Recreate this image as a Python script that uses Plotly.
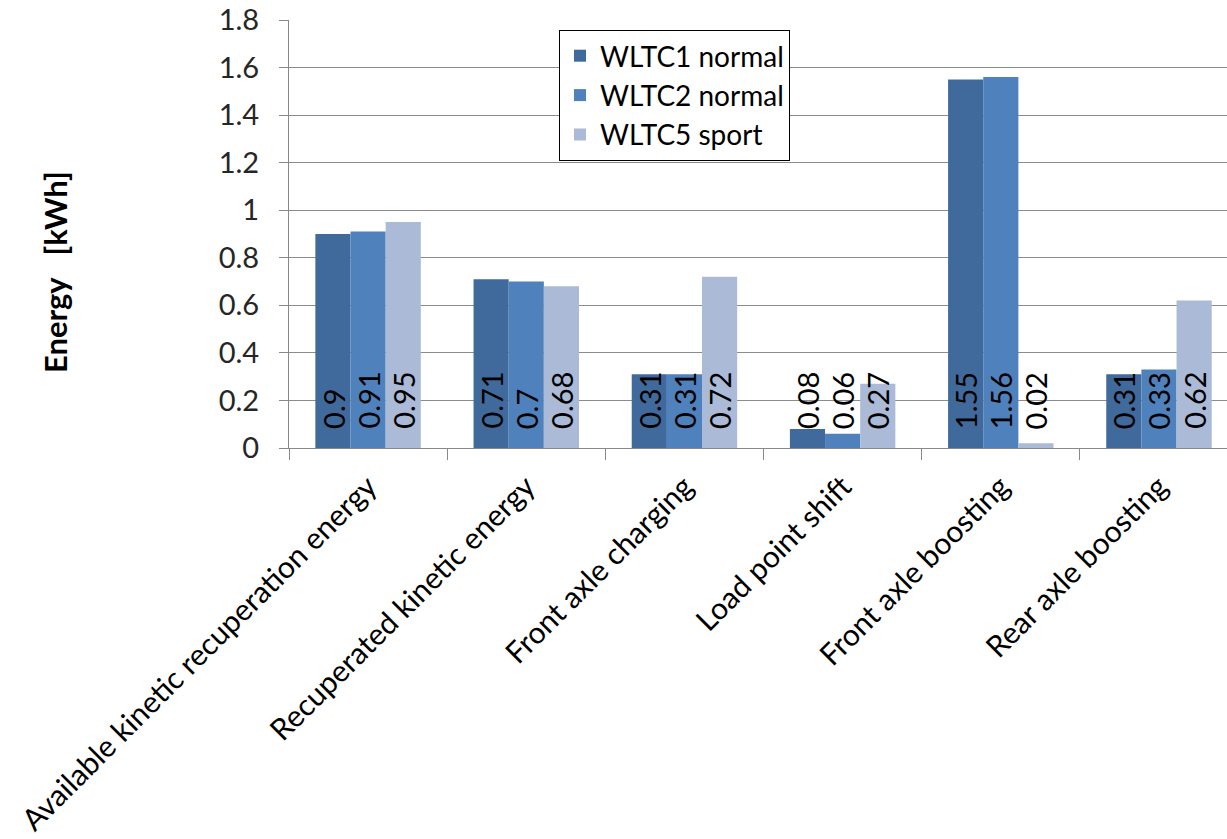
import plotly.graph_objects as go

categories = [
    "Available kinetic recuperation energy",
    "Recuperated kinetic energy",
    "Front axle charging",
    "Load point shift",
    "Front axle boosting",
    "Rear axle boosting",
]
series_names = ["WLTC1 normal", "WLTC2 normal", "WLTC5 sport"]
wltc1_normal = [0.90, 0.71, 0.31, 0.08, 1.55, 0.31]
wltc2_normal = [0.91, 0.70, 0.31, 0.06, 1.56, 0.33]
wltc5_sport = [0.95, 0.68, 0.72, 0.27, 0.02, 0.62]
y_ticks = [0, 0.2, 0.4, 0.6, 0.8, 1, 1.2, 1.4, 1.6, 1.8]

series_values = [wltc1_normal, wltc2_normal, wltc5_sport]
colors = ["#416A9C", "#4F81BD", "#AABAD7"]
FONT = "Lato, 'Open Sans', sans-serif"
FS = 29
BARGAP = 1 / 3

# plot area in pixels
L, R, T, B = 289, 0, 20, 391
W, H = 1227, 839
PW, PH = W - L - R, H - T - B

fig = go.Figure()
for name, vals, col in zip(series_names, series_values, colors):
    fig.add_trace(go.Bar(
        x=categories, y=vals, name=name,
        marker=dict(color=col, line=dict(width=0)),
    ))

# value labels, rotated and placed at the base of each bar
bar_w = (1 - BARGAP) / len(series_values)
annotations = []
for k, vals in enumerate(series_values):
    for i, v in enumerate(vals):
        annotations.append(dict(
            x=i + (k - 1) * bar_w, y=0, xref="x", yref="y",
            text=f"{v:g}", textangle=-90, showarrow=False,
            xanchor="center", yanchor="bottom", yshift=17,
            font=dict(family=FONT, size=FS, color="#000000"),
        ))

# y-axis title
annotations.append(dict(
    x=(55 - L) / PW, y=1 - (272 - T) / PH, xref="paper", yref="paper",
    xanchor="center", yanchor="middle",
    text="<b>Energy\u00a0\u00a0\u00a0[kWh]</b>", textangle=-90, showarrow=False,
    font=dict(family=FONT, size=31, color="#000000"),
))

fig.update_layout(
    width=W, height=H,
    margin=dict(l=L, r=R, t=T, b=B),
    paper_bgcolor="white", plot_bgcolor="white",
    barmode="group", bargap=BARGAP, bargroupgap=0,
    font=dict(family=FONT, size=FS, color="#262626"),
    showlegend=True,
    legend=dict(
        x=(559 - L) / PW, y=1 - (30 - T) / PH, xanchor="left", yanchor="top",
        bgcolor="white", bordercolor="#000000", borderwidth=1,
        font=dict(family=FONT, size=28, color="#000000"),
        itemsizing="constant", tracegroupgap=0, entrywidth=230,
    ),
    xaxis=dict(
        type="category", range=[-0.5, 5.43],
        tickangle=-45, ticks="outside", ticklen=11, tickcolor="#888888",
        tickson="boundaries", showline=True, linecolor="#888888", linewidth=1,
        ticklabelstandoff=8,
        showgrid=False, tickfont=dict(family=FONT, size=30, color="#000000"),
    ),
    yaxis=dict(
        range=[0, 1.8], tickvals=y_ticks, ticktext=[f"{t:g}" for t in y_ticks],
        ticks="outside", ticklen=9, tickcolor="#888888",
        ticklabelstandoff=14,
        showline=True, linecolor="#888888", linewidth=1,
        showgrid=True, gridcolor="#8C8C8C", gridwidth=1,
        zeroline=False, tickfont=dict(family=FONT, size=FS, color="#262626"),
    ),
    annotations=annotations,
)

fig.write_html("out.html")
